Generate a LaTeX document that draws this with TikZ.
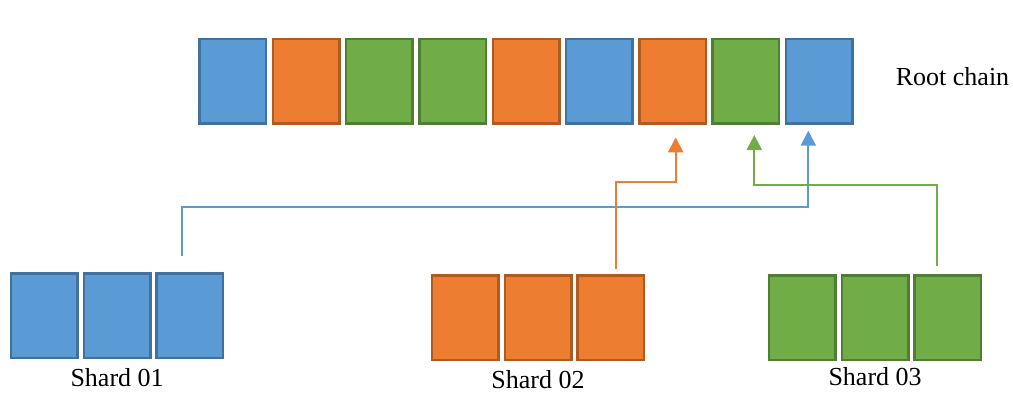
\documentclass[tikz,border=0pt]{standalone}
\usepackage{fontspec}
\setmainfont{Liberation Serif}
\usepackage{tikz}
\usetikzlibrary{calc}
\usetikzlibrary{positioning}
\usetikzlibrary{arrows.meta}
\definecolor{shardblue}{HTML}{5B9BD5}
\definecolor{shardblueline}{HTML}{41719C}
\definecolor{shardorange}{HTML}{ED7D31}
\definecolor{shardorangeline}{HTML}{AE5A21}
\definecolor{shardgreen}{HTML}{70AD47}
\definecolor{shardgreenline}{HTML}{507E32}
\tikzset{
	>={Triangle[length=15pt,width=15pt]},
	block/.style={
		rectangle,
		line width=2.5pt,
		minimum width=66.5pt,
		minimum height=84.5pt,
		inner sep=0pt,
		outer sep=0pt},
	blueblock/.style={block, fill=shardblue, draw=shardblueline},
	orangeblock/.style={block, fill=shardorange, draw=shardorangeline},
	greenblock/.style={block, fill=shardgreen, draw=shardgreenline},
	link/.style={draw, line width=2.2pt, ->},
	caption/.style={font=\fontsize{26}{31}\selectfont, inner sep=0pt},
}

\begin{document}
\begin{tikzpicture}
	[x=1pt, y=1pt, node distance=6.8pt]
	\useasboundingbox (0,0) rectangle (1013,392);

	% root chain
	\node[blueblock] (r1) at (232.8,310.9) {};
	\node[orangeblock, right=of r1] (r2) {};
	\node[greenblock, right=of r2] (r3) {};
	\node[greenblock, right=of r3] (r4) {};
	\node[orangeblock, right=of r4] (r5) {};
	\node[blueblock, right=of r5] (r6) {};
	\node[orangeblock, right=of r6] (r7) {};
	\node[greenblock, right=of r7] (r8) {};
	\node[blueblock, right=of r8] (r9) {};
	\node[caption, right=43.2pt of r9, yshift=4.4pt] (rootname) {Root chain};

	% shards
	\node[blueblock] (s1a) at (44.3,76.2) {};
	\node[blueblock, right=6.3pt of s1a] (s1b) {};
	\node[blueblock, right=6.3pt of s1b] (s1c) {};
	\node[caption] (shard1) at ([yshift=-20pt]s1b.south) {Shard 01};

	\node[orangeblock] (s2a) at (465.2,74.5) {};
	\node[orangeblock, right=6.3pt of s2a] (s2b) {};
	\node[orangeblock, right=6.3pt of s2b] (s2c) {};
	\node[caption] (shard2) at ([yshift=-19.6pt]s2b.south) {Shard 02};

	\node[greenblock] (s3a) at (802.3,74.5) {};
	\node[greenblock, right=6.3pt of s3a] (s3b) {};
	\node[greenblock, right=6.3pt of s3b] (s3c) {};
	\node[caption] (shard3) at ([yshift=-17.2pt]s3b.south) {Shard 03};

	% links to the root chain
	\draw[link, shardblue] ([shift={(-8.2,17.9)}]s1c.north) -- ++(0,48.4) -| ([shift={(-10.9,-7.3)}]r9.south);
	\draw[link, shardorange] ([shift={(5.2,6.5)}]s2c.north) -- ++(0,87.1) -| ([shift={(3.1,-14)}]r7.south);
	\draw[link, shardgreen] ([shift={(-10.9,9.3)}]s3c.north) -- ++(0,80.7) -| ([shift={(8.4,-11.65)}]r8.south);

\end{tikzpicture}
\end{document}
